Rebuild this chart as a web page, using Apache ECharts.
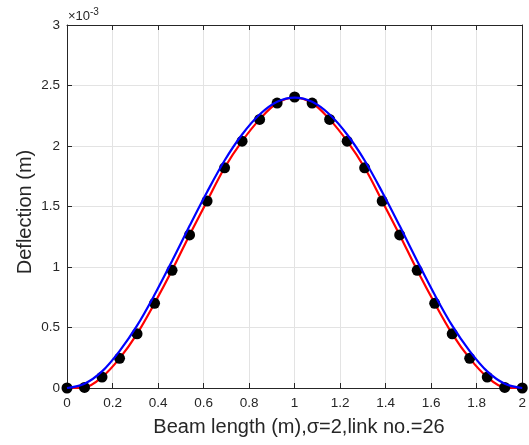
<!DOCTYPE html>
<html>
<head>
<meta charset="utf-8">
<script src="https://cdn.jsdelivr.net/npm/echarts@6/dist/echarts.min.js"></script>
<style>html,body{margin:0;padding:0;background:#fff;}#c{width:529px;height:445px;}</style>
</head>
<body>
<div id="c"></div>
<script>
// x positions of the 27 nodes (link no. = 26), metres
var xNodes = [0, 0.0769, 0.1538, 0.2308, 0.3077, 0.3846, 0.4615, 0.5385, 0.6154, 0.6923, 0.7692, 0.8462, 0.9231, 1.0,
  1.0769, 1.1538, 1.2308, 1.3077, 1.3846, 1.4615, 1.5385, 1.6154, 1.6923, 1.7692, 1.8462, 1.9231, 2.0];
// deflection values in units of 1e-3 m
var markerVals = [0, 0.005, 0.09, 0.245, 0.448, 0.70, 0.973, 1.265, 1.545, 1.82, 2.04, 2.22, 2.355, 2.405,
  2.355, 2.22, 2.04, 1.82, 1.545, 1.265, 0.973, 0.70, 0.448, 0.245, 0.09, 0.005, 0];
var redVals = [0, 0.005, 0.09, 0.245, 0.448, 0.70, 0.973, 1.265, 1.545, 1.82, 2.04, 2.22, 2.355, 2.40,
  2.355, 2.22, 2.04, 1.82, 1.545, 1.265, 0.973, 0.70, 0.448, 0.245, 0.09, 0.005, 0];
var blueVals = [0, 0.035, 0.137, 0.305, 0.515, 0.77, 1.05, 1.34, 1.62, 1.88, 2.095, 2.26, 2.365, 2.40,
  2.365, 2.26, 2.095, 1.88, 1.62, 1.34, 1.05, 0.77, 0.515, 0.305, 0.137, 0.035, 0];
var xTitle = 'Beam length (m),\u03c3=2,link no.=26';
var yTitle = 'Deflection (m)';

function pairs(xs, ys){ return xs.map(function(x,i){ return [x, ys[i]]; }); }

var FONT = '"Liberation Sans", Arial, sans-serif';
var AX = '#262626';
var chart = echarts.init(document.getElementById('c'), null, {renderer:'canvas'});
var axisCommon = {
  axisLine:{show:true, onZero:false, lineStyle:{color:AX, width:1}},
  axisTick:{show:true, inside:true, length:5, lineStyle:{color:AX}},
  axisLabel:{color:AX, fontFamily:FONT, fontSize:13.5},
  splitLine:{show:true, lineStyle:{color:'#e3e3e3', width:1}}
};
chart.setOption({
  animation:false,
  backgroundColor:'#fff',
  grid:{left:67, right:-2, top:25, bottom:57, containLabel:false},
  xAxis:[
    Object.assign({}, axisCommon, {type:'value', min:0, max:2, interval:0.2, position:'bottom',
      axisLabel:Object.assign({}, axisCommon.axisLabel, {margin:8})}),
    Object.assign({}, axisCommon, {type:'value', min:0, max:2, interval:0.2, position:'top',
      axisLabel:{show:false}, splitLine:{show:false}})
  ],
  yAxis:[
    Object.assign({}, axisCommon, {type:'value', min:0, max:3, interval:0.5, position:'left',
      axisLabel:Object.assign({}, axisCommon.axisLabel, {margin:7})}),
    Object.assign({}, axisCommon, {type:'value', min:0, max:3, interval:0.5, position:'right',
      axisLabel:{show:false}, splitLine:{show:false}})
  ],
  series:[
    {type:'line', name:'red', data:pairs(xNodes, redVals), smooth:0.35, showSymbol:false, symbol:'none',
      lineStyle:{color:'#ff0000', width:2.2}, z:2},
    {type:'scatter', name:'nodes', data:pairs(xNodes, markerVals), symbol:'circle', symbolSize:11,
      itemStyle:{color:'#000', opacity:1}, z:3},
    {type:'line', name:'blue', data:pairs(xNodes, blueVals), smooth:0.35, showSymbol:false, symbol:'none',
      lineStyle:{color:'#0000ff', width:2.2}, z:4}
  ],
  graphic:[
    {type:'text', x:299, y:427, style:{text:xTitle, font:'20px ' + FONT, fill:AX, align:'center', verticalAlign:'middle'}},
    {type:'text', x:25, y:212, rotation:Math.PI/2, style:{text:yTitle, font:'20px ' + FONT, fill:AX, align:'center', verticalAlign:'middle'}},
    {type:'text', x:68, y:23, style:{text:'\u00d710', font:'13px ' + FONT, fill:AX, align:'left', verticalAlign:'bottom'}},
    {type:'text', x:90, y:17, style:{text:'-3', font:'10px ' + FONT, fill:AX, align:'left', verticalAlign:'bottom'}}
  ]
});
</script>
</body>
</html>
